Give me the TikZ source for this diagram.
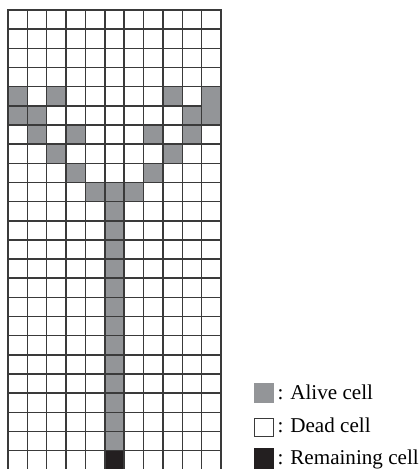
\documentclass[tikz,border=0pt]{standalone}
\usepackage{fontspec}
\setmainfont{Liberation Serif}
\definecolor{alive}{RGB}{147,149,152}
\definecolor{remain}{RGB}{35,31,32}
\definecolor{gridc}{RGB}{58,58,58}
\begin{document}
\begin{tikzpicture}[x=1pt,y=-1pt,
  gridline/.style={draw=gridc,line width=1.5pt,line cap=rect},
  alivecell/.style={fill=alive},
  remaincell/.style={fill=remain},
  legendtext/.style={anchor=base west,inner sep=0pt,font=\fontsize{21.1}{25}\selectfont}]
\useasboundingbox (0,0) rectangle (420,469);
\def\cw{19.364}
\def\rh{19.16}
% alive cells
\foreach \c/\r in {1/5,3/5,9/5,11/5,1/6,2/6,10/6,11/6,2/7,4/7,8/7,10/7,3/8,9/8,4/9,8/9,5/10,6/10,7/10}
  \fill[alivecell] ({8+(\c-1)*\cw},{10+(\r-1)*\rh}) rectangle ++(\cw,\rh);
\foreach \r in {11,...,23}
  \fill[alivecell] ({8+5*\cw},{10+(\r-1)*\rh}) rectangle ++(\cw,\rh);
% remaining cell
\fill[remaincell] ({8+5*\cw},{10+23*\rh}) rectangle ++(\cw,\rh);
% grid lines
\foreach \i in {0,...,11}
  \draw[gridline] ({8+\i*\cw},10) -- ({8+\i*\cw},472);
\foreach \j in {0,...,23}
  \draw[gridline] (8,{10+\j*\rh}) -- ({8+11*\cw},{10+\j*\rh});
% merged block in last column
\fill[alivecell] ({8+10*\cw+0.75},{10+4*\rh+0.75}) rectangle ({8+11*\cw-0.75},{10+6*\rh-0.75});
% legend
\fill[alivecell] (254,382.7) rectangle (274,403);
\draw[draw=gridc,line width=1.3pt] (254.6,418.3) rectangle (273.4,436.4);
\fill[remaincell] (254,448) rectangle (274,468.5);
\node[legendtext] (la) at (277.3,399.3) {: Alive cell};
\node[legendtext] (ld) at (277.3,432.5) {: Dead cell};
\node[legendtext] (lr) at (277.3,464.3) {: Remaining cell};
\end{tikzpicture}
\end{document}
